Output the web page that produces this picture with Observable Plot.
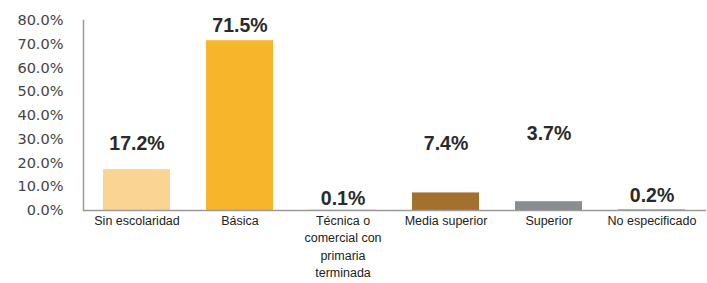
<!DOCTYPE html>
<html>
<head>
<meta charset="utf-8">
<script src="https://cdn.jsdelivr.net/npm/d3@7"></script>
<script src="https://cdn.jsdelivr.net/npm/@observablehq/plot@0.6"></script>
<style>
  html, body { margin: 0; padding: 0; background: #fff; }
  #chart svg { display: block; }
</style>
</head>
<body>
<div id="chart"></div>
<script>
// Data
const categories = [
  "Sin escolaridad",
  "Básica",
  "Técnica o comercial con primaria terminada",
  "Media superior",
  "Superior",
  "No especificado"
];
const values = [17.2, 71.5, 0.1, 7.4, 3.7, 0.2];
const yTicks = [0, 10, 20, 30, 40, 50, 60, 70, 80];

// Styling (not data)
const barColors = ["#FAD493", "#F6B52B", "#E9A640", "#A3712E", "#8A8D8F", "#6B6B6B"];
const labelDy = [-26, -15, -12, -49, -68, -14];

const data = categories.map((c, i) => ({ category: c, value: values[i] }));

const labelMarks = data.map((d, i) =>
  Plot.text([d], {
    x: "category",
    y: "value",
    text: (d) => d.value.toFixed(1) + "%",
    dy: labelDy[i],
    lineAnchor: "middle",
    fontSize: 19.5,
    fontWeight: "bold",
    fontFamily: "Liberation Sans, Arial, sans-serif",
    fill: "#2a2a2a"
  })
);

const chart = Plot.plot({
  width: 707,
  height: 283,
  marginLeft: 83,
  marginRight: 1,
  marginTop: 20,
  marginBottom: 73,
  style: { background: "#fff", overflow: "visible" },
  x: { domain: categories, paddingInner: 0.345, paddingOuter: 0.1725, label: null },
  y: { domain: [0, 80], label: null },
  color: { domain: categories, range: barColors },
  marks: [
    Plot.barY(data, { x: "category", y: "value", fill: "category" }),
    Plot.axisY({
      ticks: yTicks,
      tickFormat: (d) => d.toFixed(1) + "%",
      tickSize: 0,
      tickPadding: 20,
      fontSize: 14.5,
      fontFamily: "DejaVu Sans, Verdana, sans-serif",
      fill: "#444",
      label: null
    }),
    Plot.axisX({
      tickSize: 0,
      tickPadding: 2,
      lineWidth: 8,
      lineHeight: 1.4,
      fontSize: 12.5,
      fontFamily: "Liberation Sans, Arial, sans-serif",
      fill: "#222",
      label: null
    }),
    Plot.frame({ anchor: "left", stroke: "#9a9a9a", strokeWidth: 1.5 }),
    Plot.ruleY([0], { stroke: "#9a9a9a", strokeWidth: 1.5 }),
    ...labelMarks
  ]
});

document.getElementById("chart").appendChild(chart);
</script>
</body>
</html>
